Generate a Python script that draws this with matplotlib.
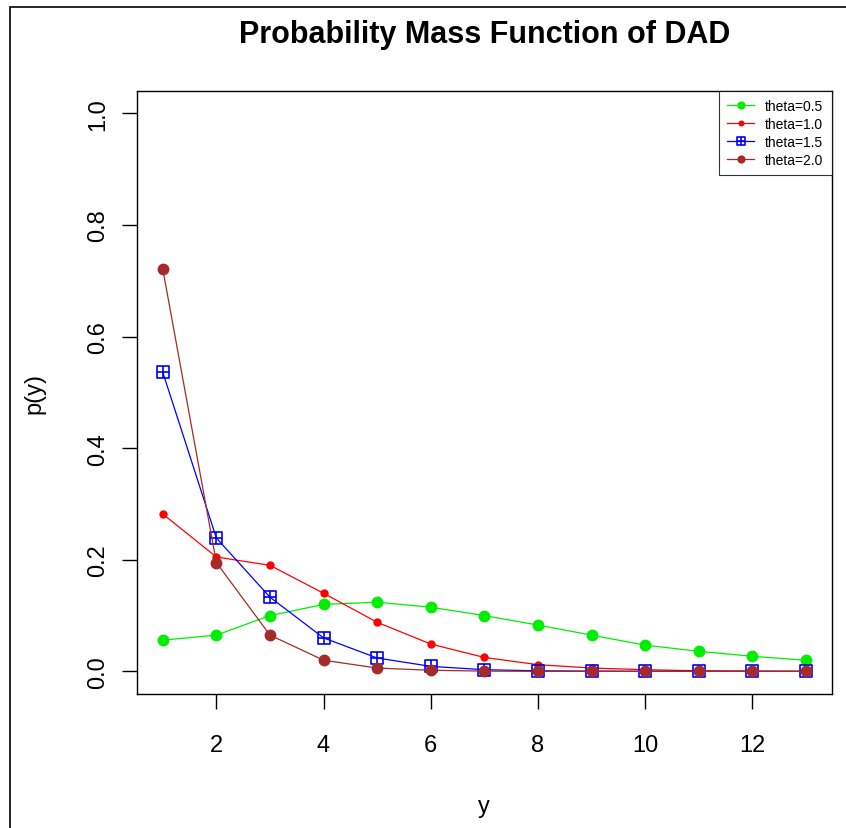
import numpy as np
import matplotlib.pyplot as plt
from matplotlib.path import Path
from matplotlib.patches import Rectangle

plt.rcParams['font.family'] = ['Liberation Sans', 'DejaVu Sans']

y_vals = np.arange(1, 14)
p_theta05 = [0.056, 0.065, 0.100, 0.120, 0.124, 0.115, 0.100, 0.083, 0.065, 0.047, 0.036, 0.027, 0.020]
p_theta10 = [0.282, 0.205, 0.190, 0.140, 0.088, 0.049, 0.025, 0.012, 0.006, 0.003, 0.001, 0.0005, 0.0002]
p_theta15 = [0.536, 0.239, 0.133, 0.060, 0.024, 0.009, 0.003, 0.001, 0.0005, 0.0002, 0.0001, 0.0, 0.0]
p_theta20 = [0.721, 0.195, 0.065, 0.020, 0.006, 0.002, 0.0005, 0.0001, 0.0, 0.0, 0.0, 0.0, 0.0]
labels = ["theta=0.5", "theta=1.0", "theta=1.5", "theta=2.0"]

# square with a plus inside (R pch=12)
sq_plus = Path(
    [(-1, -1), (1, -1), (1, 1), (-1, 1), (-1, -1), (-1, 0), (1, 0), (0, -1), (0, 1)],
    [Path.MOVETO, Path.LINETO, Path.LINETO, Path.LINETO, Path.CLOSEPOLY,
     Path.MOVETO, Path.LINETO, Path.MOVETO, Path.LINETO],
)

fig = plt.figure(figsize=(8.46, 8.29), dpi=100)
ax = fig.add_axes([0.162, 0.162, 0.821, 0.727])

lw = 0.9
ax.plot(y_vals, p_theta05, color='#00ee00', lw=lw, marker='o', ms=7.5, mec='#00ee00', label=labels[0])
ax.plot(y_vals, p_theta10, color='red', lw=lw, marker='o', ms=5, mec='red', label=labels[1])
ax.plot(y_vals, p_theta15, color='blue', lw=lw, marker=sq_plus, ms=8.8, mfc='none', mew=1.2, mec='blue', label=labels[2])
ax.plot(y_vals, p_theta20, color='#a52a2a', lw=lw, marker='o', ms=7.5, mec='#a52a2a', label=labels[3])

ax.set_xlim(0.52, 13.48)
ax.set_ylim(-0.04, 1.04)
ax.set_xticks([2, 4, 6, 8, 10, 12])
ax.set_yticks([0.0, 0.2, 0.4, 0.6, 0.8, 1.0])
ax.set_yticklabels(['0.0', '0.2', '0.4', '0.6', '0.8', '1.0'], rotation=90, va='center')
ax.tick_params(labelsize=17, length=11, width=1)
ax.tick_params(axis='x', pad=18)
ax.tick_params(axis='y', pad=9)
for s in ax.spines.values():
    s.set_linewidth(1)

ax.set_xlabel('y', fontsize=17)
ax.xaxis.set_label_coords(0.5, -0.168)
ax.set_ylabel('p(y)', fontsize=17)
ax.yaxis.set_label_coords(-0.132, 0.5)
fig.text(0.573, 0.958, 'Probability Mass Function of DAD', ha='center', va='center',
         fontsize=22, fontweight='bold')

leg = ax.legend(loc='upper right', fontsize=10, frameon=True, fancybox=False,
                edgecolor='black', borderaxespad=0, handlelength=1.9, handletextpad=0.8,
                labelspacing=0.27, borderpad=0.6)
leg.get_frame().set_linewidth(0.8)
for h in leg.legend_handles:
    h.set_markersize(h.get_markersize() * 0.65)

# outer frame of the screenshot
fig.patches.append(Rectangle((0.012, -0.01), 0.99, 1.0, transform=fig.transFigure,
                             fill=False, edgecolor='black', lw=1.2))

fig.savefig('out.png', dpi=100)
